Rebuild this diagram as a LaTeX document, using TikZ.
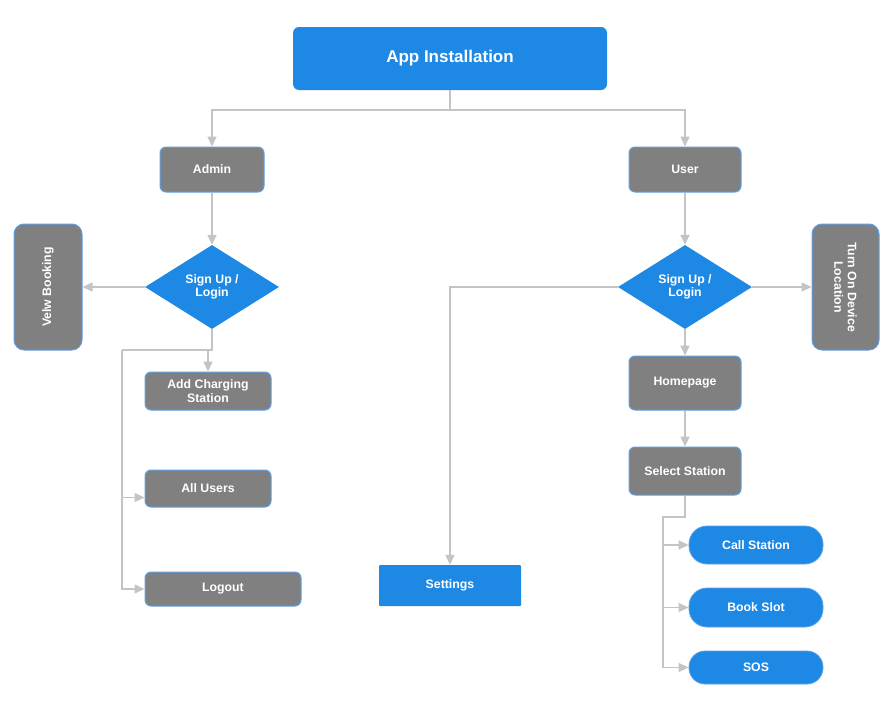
\documentclass[tikz,border=0pt]{standalone}
\usepackage{fontspec}
\setmainfont{Liberation Sans}
\definecolor{appblue}{RGB}{30, 137, 229}
\definecolor{boxgray}{RGB}{128, 128, 128}
\definecolor{edgeblue}{RGB}{95, 160, 230}
\definecolor{linegray}{RGB}{196, 196, 196}
\usetikzlibrary{shapes, arrows.meta, positioning, calc}

\begin{document}
\begin{tikzpicture}[x=1pt, y=-1pt,
  txt/.style={text=white, font=\fontsize{12.3}{13.5}\selectfont\bfseries, align=center, inner sep=0pt},
  grayblock/.style={txt, draw=edgeblue, fill=boxgray, line width=1pt, rounded corners=6pt},
  blueblock/.style={txt, fill=appblue, rounded corners=6pt},
  pill/.style={txt, draw=edgeblue, fill=appblue, line width=0.8pt, rounded corners=18pt},
  decision/.style={txt, diamond, fill=appblue, aspect=1.6, minimum width=134pt, minimum height=84pt},
  flow/.style={draw=linegray, line width=1.5pt},
  tip/.style={flow, -{Triangle[length=10pt, width=9pt]}}]
  \useasboundingbox (0,0) rectangle (887,715);

  % top
  \node[blueblock, minimum width=314pt, minimum height=63pt, font=\fontsize{17}{19}\selectfont\bfseries] (app) at (450,58.5) {App Installation};
  \node[grayblock, minimum width=104pt, minimum height=45pt] (admin) at (212,169.5) {Admin};
  \node[grayblock, minimum width=112pt, minimum height=45pt] (user) at (685,169.5) {User};
  \coordinate (split) at (450,110);

  % admin side
  \node[decision] (signa) at (212,287) {Sign Up /\\Login};
  \node[grayblock, rotate=90, rounded corners=10pt, minimum width=126pt, minimum height=68pt] (view) at (48,287) {Velw Booking};
  \node[grayblock, minimum width=126pt, minimum height=38pt] (addcs) at (208,391) {Add Charging\\Station};
  \node[grayblock, minimum width=126pt, minimum height=37pt] (allusers) at (208,488.5) {All Users};
  \node[grayblock, minimum width=156pt, minimum height=34pt] (logout) at (223,589) {Logout};
  \coordinate (ajoin) at (122,350);
  \coordinate (aulink) at ([yshift=-9pt]allusers.west);

  % user side
  \node[decision] (signu) at (685,287) {Sign Up /\\Login};
  \node[grayblock, rotate=-90, rounded corners=10pt, minimum width=126pt, minimum height=67pt] (turnon) at (845.5,287) {Turn On Device\\Location};
  \node[blueblock, rounded corners=1pt, minimum width=142pt, minimum height=41pt] (settings) at (450,585.5) {Settings};
  \node[grayblock, minimum width=112pt, minimum height=54pt] (home) at (685,383) {Homepage};
  \node[grayblock, minimum width=112pt, minimum height=48pt] (select) at (685,471) {Select Station};
  \node[pill, minimum width=134pt, minimum height=38pt] (call) at (756,545) {Call Station};
  \node[pill, minimum width=134pt, minimum height=39pt] (book) at (756,607.5) {Book Slot};
  \node[pill, minimum width=134pt, minimum height=33pt, rounded corners=16pt] (sos) at (756,667.5) {SOS};
  \coordinate (ujoin) at (663,517);

  % connectors
  \draw[flow] (app.south) -- (split);
  \draw[tip] (split) -| (admin);
  \draw[tip] (split) -| (user);

  \draw[tip] (admin) -- (signa);
  \draw[tip] (signa) -- (view);
  \draw[flow] (signa.south) |- (ajoin);
  \draw[tip] (addcs.north |- ajoin) -- (addcs);
  \draw[tip] (ajoin |- aulink) -- (aulink);
  \draw[tip] (ajoin) |- (logout);

  \draw[tip] (user) -- (signu);
  \draw[tip] (signu) -- (turnon);
  \draw[tip] (signu.west) -| (settings);
  \draw[tip] (signu) -- (home);
  \draw[tip] (home) -- (select);
  \draw[flow] (select.south) |- (ujoin) -- (ujoin |- sos.west);
  \foreach \n in {call, book, sos}
    \draw[tip] (ujoin |- \n.west) -- (\n);
\end{tikzpicture}
\end{document}
